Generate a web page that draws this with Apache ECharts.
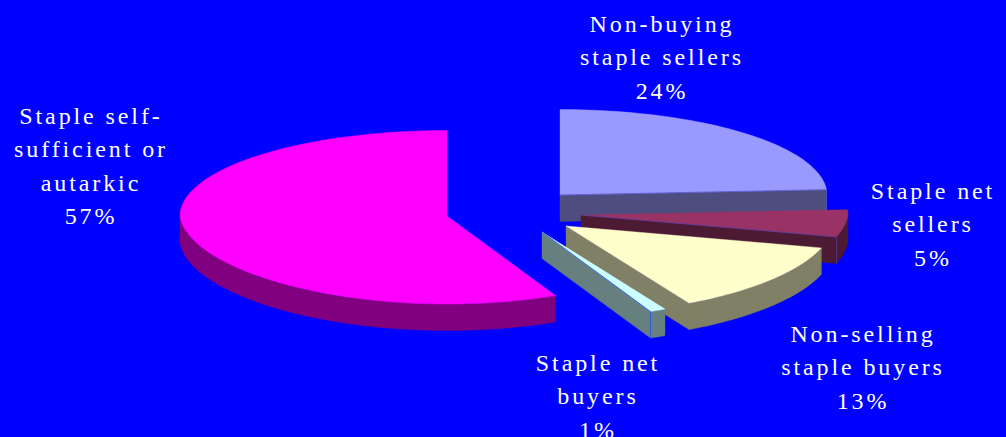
<!DOCTYPE html>
<html>
<head>
<meta charset="utf-8">
<style>
  html, body { margin: 0; padding: 0; background: #0000ff; }
  #chart { width: 1006px; height: 437px; }
  #chart text { letter-spacing: 2.9px; }
</style>
<script src="https://cdn.jsdelivr.net/npm/echarts@6/dist/echarts.min.js"></script>
</head>
<body>
<div id="chart"></div>
<script>
// Household staple market position, clockwise from twelve o'clock
const categories = [
  'Non-buying\nstaple sellers',
  'Staple net\nsellers',
  'Non-selling\nstaple buyers',
  'Staple net\nbuyers',
  'Staple self-\nsufficient or\nautarkic'
];
const shares = [24, 5, 13, 1, 57];

// Per-slice styling
const topColors = ['#9999ff', '#993366', '#ffffcc', '#ccffff', '#ff00ff'];
const sideColors = ['#4d4d80', '#4d1a33', '#808066', '#668080', '#800080'];
const edgeColors = ['#5c5cd0', '#5a3fa0', null, '#2a4df0', null];

// Exploded position of each slice relative to the pie centre
const explode = [[60, -20], [81, 0], [66, 11], [42, 17], [-53, 1]];
// Label block centres
const labelCentres = [[662, 57], [933, 224], [863, 367], [598, 396], [91, 166]];

const pie = { cx: 500, cy: 215, rx: 267, ryBack: 85.5, ryFront: 88, depth: 26.5, narrow: 0.05 };
const total = shares.reduce((a, b) => a + b, 0);

// Tilted disc projection: angle in degrees, clockwise from the top
function project(deg, ax, ay) {
  const t = deg * Math.PI / 180;
  const c = Math.cos(t), s = Math.sin(t);
  const front = Math.max(0, -c);
  return [
    ax + pie.rx * s * (1 - pie.narrow * front),
    ay - c * (c < 0 ? pie.ryFront : pie.ryBack)
  ];
}

function arcPoints(from, to, ax, ay) {
  const pts = [];
  const n = Math.max(2, Math.ceil((to - from) / 1.5));
  for (let i = 0; i <= n; i++) pts.push(project(from + (to - from) * i / n, ax, ay));
  return pts;
}

const dropped = pts => pts.map(p => [p[0], p[1] + pie.depth]).reverse();

function renderSlice(params, api) {
  const i = params.dataIndex;
  let before = 0;
  for (let k = 0; k < i; k++) before += shares[k];
  const a0 = before / total * 360;
  const a1 = (before + api.value(0)) / total * 360;
  const ax = pie.cx + explode[i][0];
  const ay = pie.cy + explode[i][1];
  const apex = [ax, ay];
  const side = sideColors[i];
  const children = [];
  const poly = (points, fill) => ({
    type: 'polygon',
    shape: { points },
    style: { fill, stroke: fill, lineWidth: 0.4 }
  });

  // Side walls facing the viewer
  if (Math.sin(a1 * Math.PI / 180) > 0.001) {
    const e = project(a1, ax, ay);
    children.push(poly([apex, e, [e[0], e[1] + pie.depth], [ax, ay + pie.depth]], side));
  }
  if (Math.sin(a0 * Math.PI / 180) < -0.001) {
    const e = project(a0, ax, ay);
    children.push(poly([apex, e, [e[0], e[1] + pie.depth], [ax, ay + pie.depth]], side));
  }
  const rimFrom = Math.max(a0, 90), rimTo = Math.min(a1, 270);
  if (rimTo > rimFrom) {
    const rim = arcPoints(rimFrom, rimTo, ax, ay);
    children.push(poly(rim.concat(dropped(rim)), side));
  }

  // Top face
  children.push(poly([apex].concat(arcPoints(a0, a1, ax, ay)), topColors[i]));

  // Thin seam along the leading edge
  if (edgeColors[i]) {
    const e = project(a1, ax, ay);
    children.push({
      type: 'polyline',
      shape: { points: [apex, e, [e[0], e[1] + pie.depth]] },
      style: { fill: null, stroke: edgeColors[i], lineWidth: 0.8 }
    });
  }

  // Category and share label
  children.push({
    type: 'text',
    x: labelCentres[i][0],
    y: labelCentres[i][1],
    style: {
      text: categories[i] + '\n' + api.value(0) + '%',
      fill: '#ffffff',
      font: '24px "Liberation Serif", "Times New Roman", serif',
      lineHeight: 33.5,
      align: 'center',
      verticalAlign: 'middle'
    }
  });

  return { type: 'group', children };
}

const chart = echarts.init(document.getElementById('chart'), null, { renderer: 'svg' });
chart.setOption({
  backgroundColor: '#0000ff',
  animation: false,
  series: [{
    type: 'custom',
    coordinateSystem: 'none',
    silent: true,
    renderItem: renderSlice,
    data: shares.map((v, i) => ({ name: categories[i], value: [v] }))
  }]
});
</script>
</body>
</html>
